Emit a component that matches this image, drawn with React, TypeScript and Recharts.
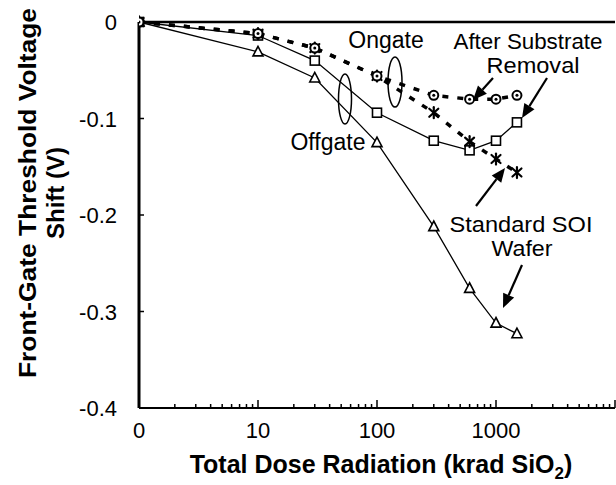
import React from 'react';
import { LineChart, Line, XAxis, YAxis, ReferenceLine, Customized } from 'recharts';

// Dose in krad(SiO2); the "0" dose point is drawn at the left edge (1 on the log axis)
const doses = [1, 10, 30, 100, 300, 600, 1000, 1500];
const offgateStandard = [0, -0.031, -0.058, -0.125, -0.212, -0.276, -0.312, -0.323];
const offgateRemoval = [0, -0.014, -0.040, -0.094, -0.123, -0.133, -0.123, -0.104];
const ongateStandard = [0, -0.012, -0.027, -0.056, -0.094, -0.124, -0.142, -0.156];
const ongateRemoval = [0, -0.012, -0.027, -0.056, -0.076, -0.080, -0.080, -0.076];

const xMajorTicks = [1, 10, 100, 1000, 10000];
const xTickLabels = ['0', '10', '100', '1000', ''];
const yTicks = [0, -0.1, -0.2, -0.3, -0.4];
const yTickLabels = ['0', '-0.1', '-0.2', '-0.3', '-0.4'];

const minorMultipliers = [2, 3, 4, 5, 6, 7, 8, 9];
const xMinorTicks: number[] = [];
xMajorTicks.slice(0, 4).forEach((d) => minorMultipliers.forEach((m) => xMinorTicks.push(d * m)));
const xAllTicks = [...xMajorTicks, ...xMinorTicks].sort((a, b) => a - b);

const data = doses.map((d, i) => ({
  dose: d,
  offStd: offgateStandard[i],
  offRem: offgateRemoval[i],
  onStd: ongateStandard[i],
  onRem: ongateRemoval[i],
}));

const FONT = 'Liberation Sans, Arial, Helvetica, sans-serif';

const XTick = (props: any) => {
  const { x, y, payload } = props;
  const v = payload.value;
  const mi = xMajorTicks.indexOf(v);
  const major = mi >= 0;
  const len = major ? 8 : 4;
  return (
    <g>
      <line x1={x} y1={y} x2={x} y2={y - len} stroke="#000" strokeWidth={1.5} />
      {major && xTickLabels[mi] ? (
        <text x={x} y={y + 30} textAnchor="middle" fontSize={22} fontFamily={FONT} fill="#000">
          {xTickLabels[mi]}
        </text>
      ) : null}
    </g>
  );
};

const YTick = (props: any) => {
  const { x, y, payload } = props;
  const i = yTicks.findIndex((t) => Math.abs(t - payload.value) < 1e-9);
  const axisX = x + 22;
  return (
    <g>
      {i > 0 && i < yTicks.length - 1 ? (
        <line x1={axisX} y1={y} x2={axisX + 5} y2={y} stroke="#000" strokeWidth={1.5} />
      ) : null}
      <text x={x} y={y + 8} textAnchor="end" fontSize={22} fontFamily={FONT} fill="#000">
        {i >= 0 ? yTickLabels[i] : ''}
      </text>
    </g>
  );
};

const Tri = ({ cx, cy }: any) => (
  <polygon
    points={`${cx},${cy - 5.5} ${cx - 5},${cy + 4} ${cx + 5},${cy + 4}`}
    fill="#fff"
    stroke="#000"
    strokeWidth={1.6}
  />
);
const Sq = ({ cx, cy }: any) => (
  <rect x={cx - 4.5} y={cy - 4.5} width={9} height={9} fill="#fff" stroke="#000" strokeWidth={1.6} />
);
const Circ = ({ cx, cy }: any) => (
  <g>
    <circle cx={cx} cy={cy} r={4.5} fill="#fff" stroke="#000" strokeWidth={2} />
    <circle cx={cx} cy={cy} r={1.5} fill="#000" />
  </g>
);
const Ast = ({ cx, cy }: any) => (
  <g stroke="#000" strokeWidth={2.2} strokeLinecap="round">
    <line x1={cx - 4.5} y1={cy - 4} x2={cx + 4.5} y2={cy + 4} />
    <line x1={cx + 4.5} y1={cy - 4} x2={cx - 4.5} y2={cy + 4} />
    <line x1={cx} y1={cy - 5.5} x2={cx} y2={cy + 5.5} />
  </g>
);

const Arrow = ({ x1, y1, x2, y2 }: any) => {
  const dx = x2 - x1;
  const dy = y2 - y1;
  const L = Math.sqrt(dx * dx + dy * dy);
  const ux = dx / L;
  const uy = dy / L;
  const hl = 14;
  const hw = 6;
  const bx = x2 - ux * hl;
  const by = y2 - uy * hl;
  return (
    <g>
      <line x1={x1} y1={y1} x2={bx} y2={by} stroke="#000" strokeWidth={2.2} />
      <polygon
        points={`${x2},${y2} ${bx - uy * hw},${by + ux * hw} ${bx + uy * hw},${by - ux * hw}`}
        fill="#000"
      />
    </g>
  );
};

const Annotations = () => (
  <g fontFamily={FONT} fill="#000">
    <text x={386} y={48} fontSize={23} textAnchor="middle">Ongate</text>
    <text x={528} y={49} fontSize={22} textAnchor="middle" textLength={149} lengthAdjust="spacingAndGlyphs">After Substrate</text>
    <text x={533} y={73} fontSize={22} textAnchor="middle" textLength={93} lengthAdjust="spacingAndGlyphs">Removal</text>
    <text x={328} y={150} fontSize={23} textAnchor="middle">Offgate</text>
    <text x={521} y={232} fontSize={22} textAnchor="middle" textLength={143} lengthAdjust="spacingAndGlyphs">Standard SOI</text>
    <text x={522} y={256} fontSize={22} textAnchor="middle" textLength={61} lengthAdjust="spacingAndGlyphs">Wafer</text>
    <ellipse cx={345} cy={99} rx={6.5} ry={25} fill="none" stroke="#000" strokeWidth={1.5} />
    <ellipse cx={395} cy={82} rx={7} ry={25} fill="none" stroke="#000" strokeWidth={1.5} />
    <Arrow x1={493} y1={78} x2={473} y2={100} />
    <Arrow x1={547} y1={78} x2={522} y2={118} />
    <Arrow x1={476} y1={206} x2={505} y2={168} />
    <Arrow x1={522} y1={265} x2={503} y2={308} />
    <text
      x={36}
      y={193}
      fontSize={24}
      fontWeight="bold"
      textAnchor="middle"
      textLength={370}
      lengthAdjust="spacingAndGlyphs"
      transform="rotate(-90 36 193)"
    >
      Front-Gate Threshold Voltage
    </text>
    <text x={64} y={193} fontSize={24} fontWeight="bold" textAnchor="middle" transform="rotate(-90 64 193)">
      Shift (V)
    </text>
    <text x={381} y={473} fontSize={25} fontWeight="bold" textAnchor="middle">
      Total Dose Radiation (krad SiO
      <tspan fontSize={17} dy={6}>2</tspan>
      <tspan dy={-6}>)</tspan>
    </text>
  </g>
);

export default function App() {
  return (
    <div style={{ position: 'absolute', left: 0, top: 0, width: 616, height: 485, background: '#fff' }}>
      <LineChart width={616} height={485} data={data} margin={{ top: 22, right: 1, left: 0, bottom: 0 }}>
        <XAxis
          dataKey="dose"
          type="number"
          scale="log"
          domain={[1, 10000]}
          ticks={xAllTicks}
          interval={0}
          allowDataOverflow
          tickLine={false}
          tickSize={0}
          tickMargin={0}
          height={77}
          axisLine={{ stroke: '#000', strokeWidth: 2 }}
          tick={<XTick />}
        />
        <YAxis
          type="number"
          domain={[-0.4, 0]}
          ticks={yTicks}
          interval={0}
          width={139}
          tickLine={false}
          tickSize={0}
          tickMargin={22}
          axisLine={{ stroke: '#000', strokeWidth: 3 }}
          tick={<YTick />}
        />
        <ReferenceLine y={0} stroke="#000" strokeWidth={2.5} />
        <Line
          dataKey="offStd"
          stroke="#000"
          strokeWidth={1.3}
          isAnimationActive={false}
          dot={(p: any) => <Tri key={`t${p.index}`} cx={p.cx} cy={p.cy} />}
        />
        <Line
          dataKey="offRem"
          stroke="#000"
          strokeWidth={1.3}
          isAnimationActive={false}
          dot={(p: any) => <Sq key={`s${p.index}`} cx={p.cx} cy={p.cy} />}
        />
        <Line
          dataKey="onStd"
          stroke="#000"
          strokeWidth={3.5}
          strokeDasharray="6 9"
          isAnimationActive={false}
          dot={(p: any) => <Ast key={`a${p.index}`} cx={p.cx} cy={p.cy} />}
        />
        <Line
          dataKey="onRem"
          stroke="#000"
          strokeWidth={3.5}
          strokeDasharray="6 9"
          isAnimationActive={false}
          dot={(p: any) => <Circ key={`c${p.index}`} cx={p.cx} cy={p.cy} />}
        />
        <Customized component={<Annotations />} />
      </LineChart>
    </div>
  );
}
